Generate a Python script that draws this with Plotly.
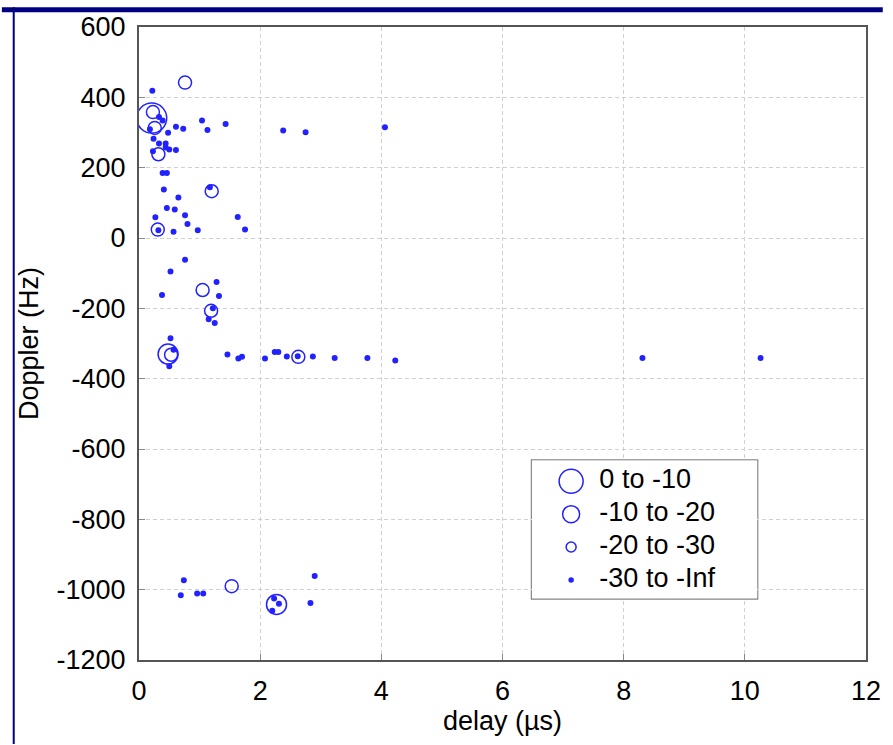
import plotly.graph_objects as go

# ---------------- data ----------------
categories = ["0 to -10", "-10 to -20", "-20 to -30", "-30 to -Inf"]

delay_c1 = [0.21]
doppler_c1 = [341]

delay_c2 = [0.48, 2.27]
doppler_c2 = [-330, -1042]

delay_c3 = [0.76, 0.23, 0.26, 0.32, 1.20, 0.31, 1.05, 1.19, 0.53, 2.63, 1.53]
doppler_c3 = [442, 358, 313, 238, 133, 24, -148, -207, -332, -338, -990]

delay_c4 = [0.22, 0.33, 0.39, 0.61, 0.73, 1.04, 1.13, 1.43, 2.38, 2.75, 4.06,
            0.18, 0.48, 0.24, 0.33, 0.44, 0.44, 0.50, 0.61, 0.23,
            0.39, 0.46, 0.41, 1.17, 0.65, 0.46, 0.59, 0.27, 0.76, 0.80, 0.97,
            1.63, 1.75, 0.32, 0.57, 0.76, 0.52, 1.28, 1.32, 0.38, 1.22, 1.15,
            1.25, 0.52, 0.50, 0.57, 1.46, 1.64, 1.70, 2.08, 2.24, 2.30, 2.44,
            2.62, 2.87, 3.23, 3.77, 4.23, 8.31, 10.26,
            0.74, 0.69, 0.96, 1.06, 2.23, 2.31, 2.20, 2.90, 2.83]
doppler_c4 = [419, 344, 334, 316, 311, 334, 307, 324, 306, 301, 315,
              309, 299, 282, 269, 269, 257, 252, 250, 247,
              185, 185, 138, 144, 115, 85, 81, 59, 65, 40, 22,
              60, 24, 22, 18, -62, -95, -125, -165, -162, -200, -231,
              -242, -285, -365, -318, -331, -343, -338, -343, -324, -324, -337,
              -336, -337, -341, -341, -348, -341, -341,
              -973, -1016, -1011, -1011, -1025, -1040, -1060, -961, -1038]

x_ticks = [0, 2, 4, 6, 8, 10, 12]
y_ticks = [600, 400, 200, 0, -200, -400, -600, -800, -1000, -1200]

# ---------------- style ----------------
W, H = 893, 745
L, R, T, B = 139, 876, 20, 660          # plot area in pixels
FONT = "Arial, Liberation Sans, Helvetica, sans-serif"
FS = 27
BLUE = "#2222ff"

sizes = [30, 20, 13, 4.5]
symbols = ["circle-open", "circle-open", "circle-open", "circle"]

def px2paper_x(px):
    return (px - L) / (R - L)

def px2paper_y(py):
    return (B - py) / (B - T)

fig = go.Figure()

series = [(delay_c1, doppler_c1), (delay_c2, doppler_c2),
          (delay_c3, doppler_c3), (delay_c4, doppler_c4)]
for i, (xs, ys) in enumerate(series):
    fig.add_trace(go.Scatter(
        x=xs, y=ys, mode="markers", name=categories[i], showlegend=False,
        marker=dict(symbol=symbols[i], size=sizes[i], color=BLUE,
                    line=dict(color=BLUE, width=1.5)),
        hoverinfo="skip"))

# ---- custom legend (overlay axes) ----
legend_sizes = [24, 17, 10, 4]
for i, cat in enumerate(categories):
    fig.add_trace(go.Scatter(
        x=[0.175], y=[i], mode="markers", xaxis="x2", yaxis="y2",
        showlegend=False, hoverinfo="skip",
        marker=dict(symbol=symbols[i], size=legend_sizes[i], color=BLUE,
                    line=dict(color=BLUE, width=1.5))))
fig.add_trace(go.Scatter(
    x=[0.30] * len(categories), y=list(range(len(categories))),
    text=categories, mode="text", textposition="middle right",
    textfont=dict(family=FONT, size=FS, color="black"),
    xaxis="x2", yaxis="y2", showlegend=False, hoverinfo="skip"))

lg_x0, lg_x1, lg_y0, lg_y1 = 537, 766, 458, 598

axis_common = dict(
    showline=True, linecolor="#555555", linewidth=2, mirror=True,
    ticks="inside", ticklen=6, tickcolor="#888888", tickwidth=1,
    showgrid=True, gridcolor="#d0d0d0", gridwidth=1, griddash="4px,3px",
    zeroline=False, tickfont=dict(family=FONT, size=FS, color="black"),
    ticklabelstandoff=6,
)

fig.update_layout(
    width=W, height=H,
    margin=dict(l=L, r=W - R, t=T, b=H - B),
    paper_bgcolor="white", plot_bgcolor="white",
    font=dict(family=FONT, size=FS, color="black"),
    xaxis=dict(range=[0, 12], tickvals=x_ticks, ticktext=[str(v) for v in x_ticks],
               title=dict(text="delay (\u00b5s)", font=dict(family=FONT, size=FS), standoff=6),
               **axis_common),
    yaxis=dict(range=[-1200, 600], tickvals=y_ticks, ticktext=[str(v) for v in y_ticks],
               title=dict(text="Doppler (Hz)", font=dict(family=FONT, size=FS), standoff=10),
               **axis_common),
    xaxis2=dict(domain=[px2paper_x(lg_x0), px2paper_x(lg_x1)], range=[0, 1],
                visible=False, anchor="y2", fixedrange=True),
    yaxis2=dict(domain=[px2paper_y(lg_y1), px2paper_y(lg_y0)], range=[3.57, -0.64],
                visible=False, anchor="x2", fixedrange=True),
    shapes=[
        # legend box
        dict(type="rect", xref="paper", yref="paper",
             x0=px2paper_x(lg_x0), x1=px2paper_x(lg_x1),
             y0=px2paper_y(lg_y1), y1=px2paper_y(lg_y0),
             line=dict(color="#444444", width=1.5), fillcolor="white", layer="between"),
        # navy top band
        dict(type="rect", xref="paper", yref="paper",
             x0=px2paper_x(0), x1=px2paper_x(W), y0=px2paper_y(5), y1=px2paper_y(0),
             line=dict(width=0), fillcolor="#000080", layer="above"),
        # navy left line
        dict(type="line", xref="paper", yref="paper",
             x0=px2paper_x(12), x1=px2paper_x(12), y0=px2paper_y(0), y1=px2paper_y(H),
             line=dict(color="#000080", width=2), layer="above"),
    ],
)

fig.write_html("out.html")
